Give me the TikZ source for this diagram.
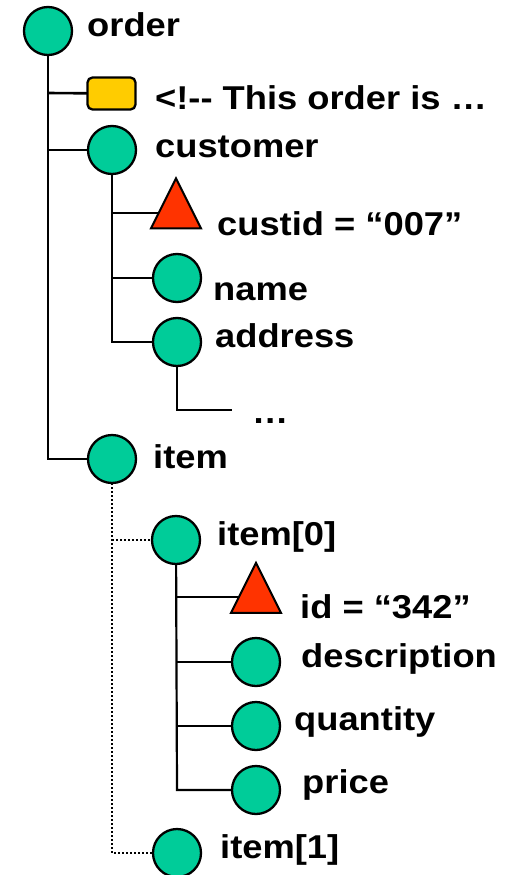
\documentclass[tikz,border=0pt]{standalone}
\usepackage{fontspec}
\setmainfont{Liberation Sans}[FakeStretch=1.1]
\usetikzlibrary{shapes.geometric,backgrounds}
\definecolor{elgreen}{HTML}{00CC99}
\definecolor{cmtyellow}{HTML}{FFCC00}
\definecolor{attrred}{HTML}{FF3300}
\tikzset{
  elem/.style={circle, draw, line width=2.3pt, fill=elgreen, minimum size=48, inner sep=0pt},
  cmt/.style={rectangle, rounded corners=5pt, draw, line width=2.3pt, fill=cmtyellow, minimum width=48, minimum height=32, inner sep=0pt},
  attr/.style={isosceles triangle, isosceles triangle stretches, shape border rotate=90, draw, line width=2pt, fill=attrred, minimum width=50, minimum height=50, inner sep=0pt},
  lbl/.style={anchor=base west, inner sep=0pt, font=\fontsize{33}{38}\selectfont\bfseries},
  edge1/.style={line width=2.6pt},
  edge2/.style={line width=2.2pt},
  dotedge/.style={line width=2pt, dash pattern=on 2pt off 2pt},
}
\begin{document}
\begin{tikzpicture}[x=1pt,y=-1pt]
\useasboundingbox (0,0) rectangle (515,875);
% nodes
\node[elem] (order) at (48,31) {};
\node[cmt] (comment) at (111.5,93.5) {};
\node[elem] (customer) at (112,150) {};
\node[attr] (custid) at (176,213) {};
\node[elem] (name) at (177,278) {};
\node[elem] (address) at (177,342) {};
\node[elem] (item) at (112,459) {};
\node[elem] (item0) at (176,540) {};
\node[attr] (id) at (256,597.5) {};
\node[elem] (description) at (256,662) {};
\node[elem] (quantity) at (256,726) {};
\node[elem] (price) at (256,790) {};
\node[elem] (item1) at (177,853) {};
% junction coordinates
\coordinate (jc) at (48,93);
\coordinate (jcu) at (48,150);
\coordinate (jit) at (48,459);
\coordinate (jid) at (112,213);
\coordinate (jna) at (112,278);
\coordinate (jad) at (112,342);
\coordinate (jdots) at (177,410);
\coordinate (dotsend) at (232,410);
\coordinate (ji0) at (112,540);
\coordinate (ji1) at (112,853);
\coordinate (jid2) at (177,597);
\coordinate (jde) at (177,662);
\coordinate (jqu) at (177,726);
\coordinate (jpr) at (177,790);
% connectors behind the nodes
\begin{scope}[on background layer]
\draw[edge1] (order.center) -- (jit) -- (item.center);
\draw[edge1] (jc) -- (comment.center);
\draw[edge1] (jcu) -- (customer.center);
\draw[edge2] (customer.center) -- (jad) -- (address.center);
\draw[edge2] (jid) -- (custid.center |- jid);
\draw[edge2] (jna) -- (name.center);
\draw[edge2] (address.center) -- (jdots) -- (dotsend);
\draw[dotedge] (item.center) -- (ji1) -- (item1.center);
\draw[dotedge] (ji0) -- (item0.center);
\draw[edge2] (item0.center) -- (jpr) -- (price.center);
\draw[edge2] (jid2) -- (id.center |- jid2);
\draw[edge2] (jde) -- (description.center);
\draw[edge2] (jqu) -- (quantity.center);
\end{scope}
% labels
\node[lbl] (t-order) at (87,37) {order};
\node[lbl] (t-comment) at (155,109) {<!-{}- This order is …};
\node[lbl] (t-customer) at (155,157) {customer};
\node[lbl] (t-custid) at (217,235) {custid = “007”};
\node[lbl] (t-name) at (213,300) {name};
\node[lbl] (t-address) at (215,347) {address};
\node[lbl] (t-dots) at (252,423) {…};
\node[lbl] (t-item) at (153,468) {item};
\node[lbl] (t-item0) at (217,545) {item[0]};
\node[lbl] (t-id) at (300,618) {id = “342”};
\node[lbl] (t-description) at (301,667) {description};
\node[lbl] (t-quantity) at (294,730) {quantity};
\node[lbl] (t-price) at (302,793) {price};
\node[lbl] (t-item1) at (220,858) {item[1]};
\end{tikzpicture}
\end{document}
